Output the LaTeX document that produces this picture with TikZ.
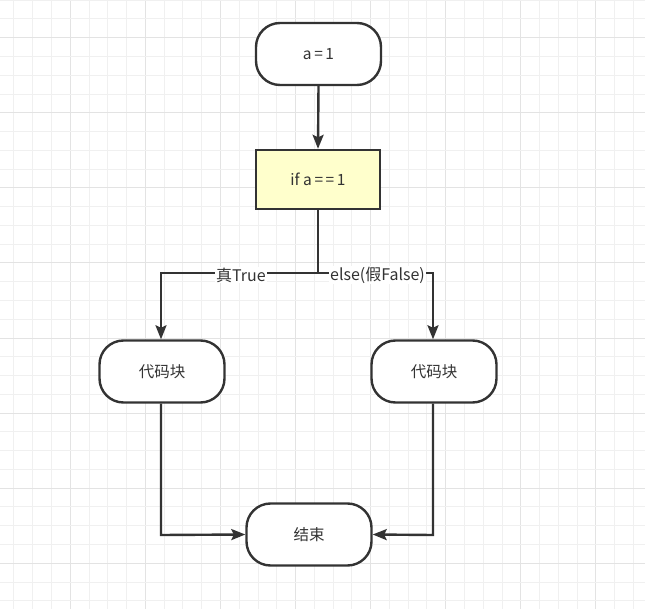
\documentclass[tikz,border=0pt]{standalone}
\usepackage{fontspec}
\setmainfont{Noto Sans CJK SC}
\usetikzlibrary{arrows.meta}
\definecolor{ink}{HTML}{333333}
\definecolor{gridminor}{HTML}{F0F0F0}
\definecolor{gridmajor}{HTML}{E3E3E3}
\definecolor{ifyellow}{HTML}{FFFFCC}
\tikzset{
  x=1pt, y=-1pt,
  term/.style={draw=ink, line width=2.4pt, fill=white, rounded corners=24pt,
    minimum width=125pt, minimum height=62pt, inner sep=0pt,
    font=\fontsize{15.5}{18}\selectfont, text=ink},
  proc/.style={draw=ink, line width=2.4pt, fill=ifyellow,
    minimum width=124pt, minimum height=59pt, inner sep=0pt,
    font=\fontsize{15.5}{18}\selectfont, text=ink},
  conn/.style={draw=ink, line width=2.4pt, -{Stealth[length=14pt,width=11pt,inset=2.5pt]}},
  lbl/.style={fill=white, inner sep=1pt, font=\fontsize{16}{18}\selectfont, text=ink},
}
\begin{document}
\begin{tikzpicture}
\useasboundingbox (0,0) rectangle (645,609);
\fill[white] (0,0) rectangle (645,609);
% grid
\foreach \i in {-3,...,31} {
  \pgfmathsetmacro{\xx}{70.3+18.77*\i}
  \pgfmathtruncatemacro{\m}{mod(\i+40,4)}
  \ifnum\m=0
    \draw[gridmajor, line width=1pt] (\xx,0) -- (\xx,609);
  \else
    \draw[gridminor, line width=1pt] (\xx,0) -- (\xx,609);
  \fi
}
\foreach \i in {-2,...,31} {
  \pgfmathsetmacro{\yy}{37.7+18.77*\i}
  \pgfmathtruncatemacro{\m}{mod(\i+40,4)}
  \ifnum\m=0
    \draw[gridmajor, line width=1pt] (0,\yy) -- (645,\yy);
  \else
    \draw[gridminor, line width=1pt] (0,\yy) -- (645,\yy);
  \fi
}
% nodes
\node[term] (start) at (318.5,54) {a{\,}={\,}1};
\node[proc] (cond) at (318,179.5) {if a{\,}={\,}={\,}1};
\node[term] (blkL) at (162,371.5) {代码块};
\node[term] (blkR) at (434,371.5) {代码块};
\node[term] (end) at (309,534.5) {结束};
\coordinate (split) at (318,273);
\coordinate (cornL) at (161,273);
\coordinate (cornR) at (433,273);
\coordinate (botL) at (161,535);
\coordinate (botR) at (433,535);
% connectors
\draw[conn] (start.south) -- (cond.north);
\draw[conn] (cond.south) -- (split) -- (cornL) -- (blkL.north -| cornL);
\draw[conn] (split) -- (cornR) -- (blkR.north -| cornR);
\draw[conn] (blkL.south -| botL) -- (botL) -- (end.west);
\draw[conn] (blkR.south -| botR) -- (botR) -- (end.east);
\node[lbl] (lblT) at (241,275) {真True};
\node[lbl] (lblF) at (377.5,275) {else(假False)};
\end{tikzpicture}
\end{document}
